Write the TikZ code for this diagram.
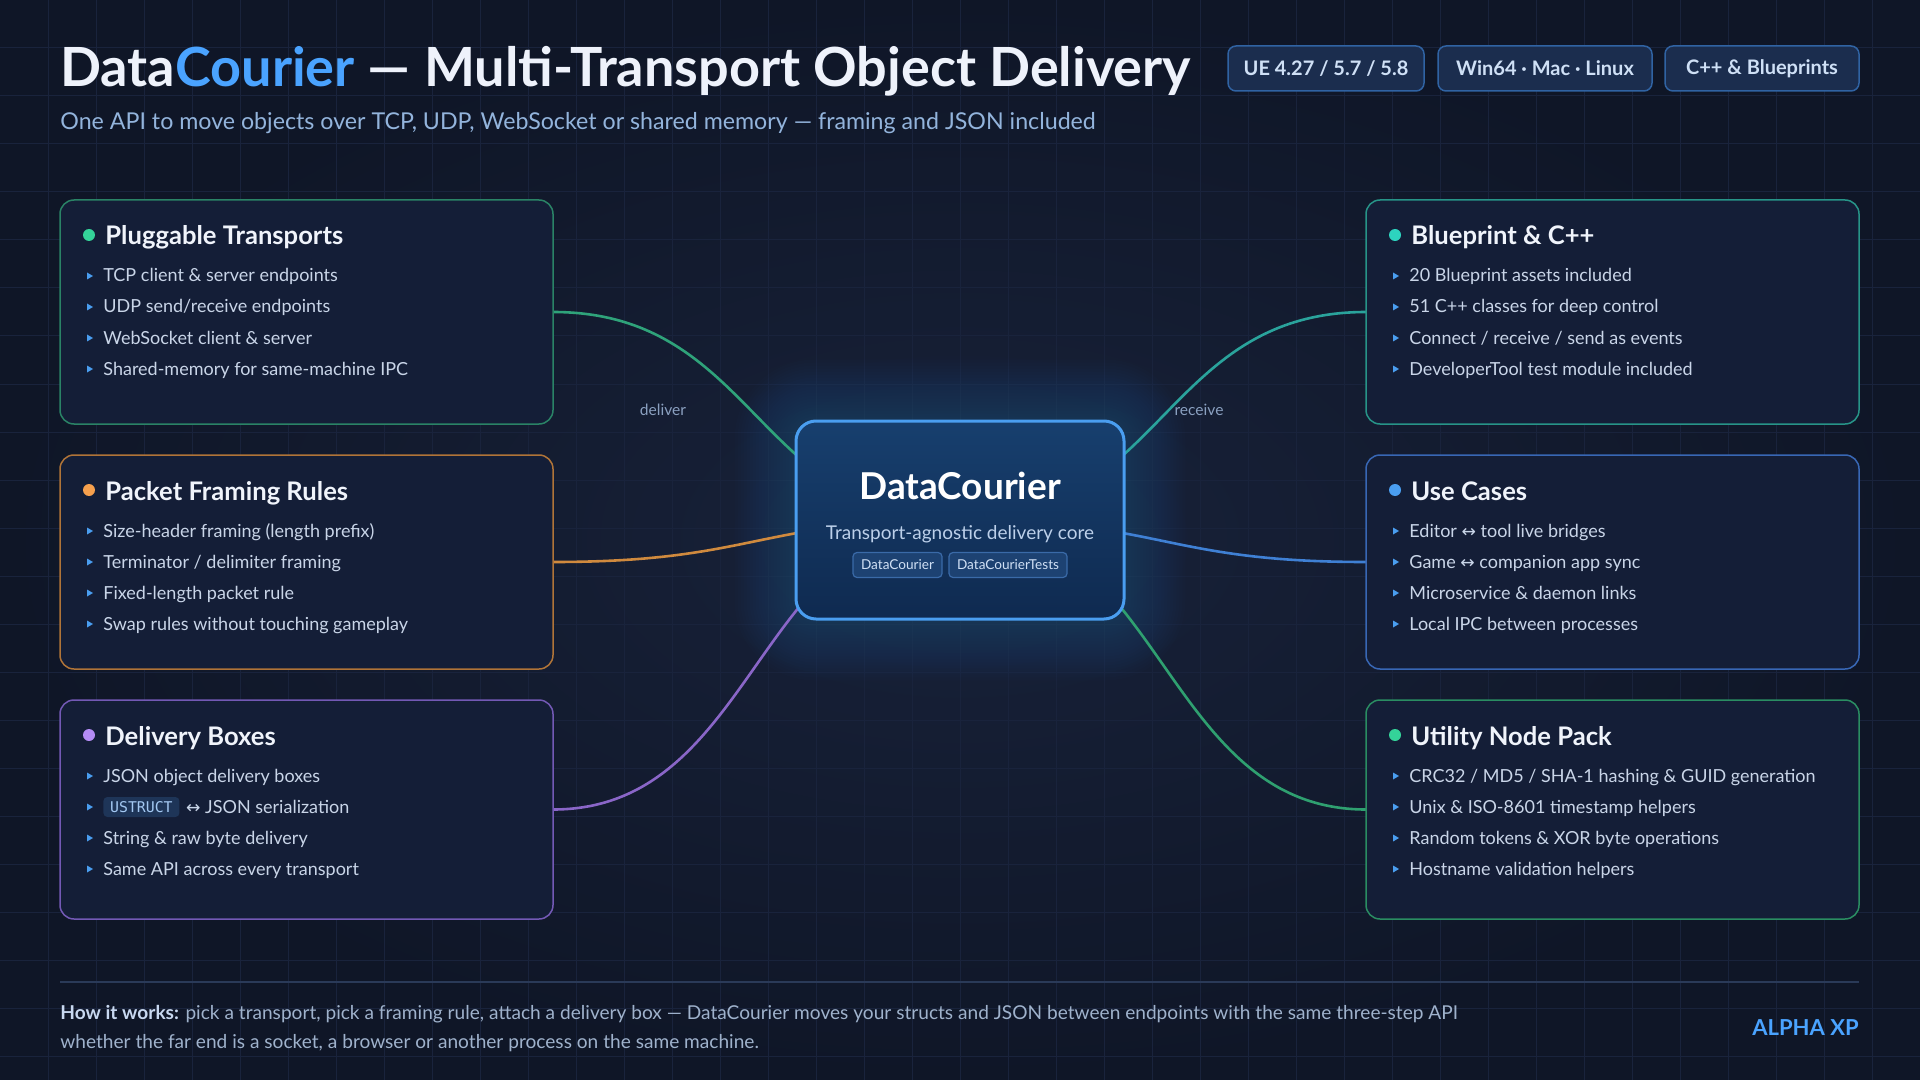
\documentclass[tikz,border=0pt]{standalone}
\usepackage{fontspec}
\setmainfont{Lato}
\newfontfamily\symf{DejaVu Sans}
\newfontfamily\monof{DejaVu Sans Mono}
\usetikzlibrary{calc}
\pgfdeclarelayer{back}
\pgfdeclarelayer{edges}
\pgfsetlayers{back,edges,main}

\definecolor{bgA}{HTML}{0F1627}
\definecolor{bgB}{HTML}{18223A}
\definecolor{gridc}{HTML}{19233C}
\definecolor{titlew}{HTML}{EEF2FB}
\definecolor{accent}{HTML}{4AA3FF}
\definecolor{subc}{HTML}{93B4DC}
\definecolor{badgefill}{HTML}{1B2D4E}
\definecolor{badgedraw}{HTML}{3063A3}
\definecolor{badgetext}{HTML}{CFE0F6}
\definecolor{boxfill}{HTML}{141E37}
\definecolor{headw}{HTML}{F0F4FB}
\definecolor{bullt}{HTML}{C9D5E8}
\definecolor{bulletc}{HTML}{4A9EF0}
\definecolor{dotgreen}{HTML}{34D399}
\definecolor{dotorange}{HTML}{F6A04D}
\definecolor{dotpurple}{HTML}{B48CF5}
\definecolor{dotteal}{HTML}{2DD4BF}
\definecolor{dotblue}{HTML}{4A9EF0}
\definecolor{bdgreen}{HTML}{2A8366}
\definecolor{bdorange}{HTML}{B07438}
\definecolor{bdpurple}{HTML}{7359B5}
\definecolor{bdteal}{HTML}{279488}
\definecolor{bdblue}{HTML}{3867B5}
\definecolor{bdgreen2}{HTML}{2A8D62}
\definecolor{cgreen}{HTML}{2FA37A}
\definecolor{corange}{HTML}{D08A3E}
\definecolor{cpurple}{HTML}{8A66C8}
\definecolor{cteal}{HTML}{2AA39C}
\definecolor{cblue}{HTML}{3F80D4}
\definecolor{cgreen2}{HTML}{2FA070}
\definecolor{cborder}{HTML}{4A9EF0}
\definecolor{ctop}{HTML}{173F6E}
\definecolor{cbot}{HTML}{0F2A50}
\definecolor{csub}{HTML}{BCD0EA}
\definecolor{tagfill}{HTML}{1D4272}
\definecolor{tagdraw}{HTML}{3A6AA8}
\definecolor{tagtext}{HTML}{D0E0F5}
\definecolor{labc}{HTML}{8AA0C0}
\definecolor{chipfill}{HTML}{1E3558}
\definecolor{chiptext}{HTML}{A3C8F2}
\definecolor{footline}{HTML}{2A3A58}
\definecolor{foottext}{HTML}{9FB2CC}
\definecolor{footbold}{HTML}{C8D8F0}
\definecolor{glowc}{HTML}{3B8CF0}

\tikzset{
  card/.style={draw=#1, line width=0.75pt, fill=boxfill, rounded corners=7pt,
    anchor=north west, minimum width=246.5pt, inner sep=0pt, outer sep=0pt},
  head/.style={anchor=base west, font=\fontsize{12.8}{14}\selectfont\bfseries, text=headw, inner sep=0pt},
  item/.style={anchor=base west, font=\fontsize{9}{10}\selectfont, text=bullt, inner sep=0pt},
  conn/.style={line width=1.3pt, draw=#1},
  badge/.style={draw=badgedraw, fill=badgefill, rounded corners=4pt, line width=0.75pt,
    minimum height=22.5pt, inner sep=0pt, text=badgetext, font=\fontsize{10}{11}\selectfont\bfseries},
  tag/.style={draw=tagdraw, fill=tagfill, rounded corners=2pt, line width=0.6pt,
    minimum height=12.5pt, inner sep=0pt, text=tagtext, font=\fontsize{6.8}{8}\selectfont},
  elabel/.style={text=labc, font=\fontsize{7.8}{9}\selectfont, inner sep=0pt},
}

\newcommand\card[7]{%
  \node[card=#5, minimum height=#4] (#1) at (#2,#3) {};
  \fill[#6] ($(#1.north west)+(29,35)$) circle (3pt);
  \node[head] (#1h) at ($(#1.north west)+(45,45)$) {#7};
}
\newcommand\itm[3]{%
  \pgfmathsetmacro\yy{82+31*#2}
  \fill[bulletc] ($(#1.north west)+(27,\yy-9.5)$) -- ++(6,3.5) -- ++(-6,3.5) -- cycle;
  \node[item] (#1i#2) at ($(#1.north west)+(43,\yy)$) {#3};
}
\newcommand\lra{{\symf\fontsize{8.6}{10}\selectfont ↔}}

\begin{document}
\begin{tikzpicture}[x=0.5pt,y=-0.5pt]
\useasboundingbox (0,0) rectangle (1920,1080);
\begin{pgfonlayer}{back}
  \shade[inner color=bgB, outer color=bgA] (0,0) rectangle (1920,1080);
  \foreach \gx in {48,96,...,1900} \draw[gridc, line width=0.5pt] (\gx,0) -- (\gx,1080);
  \foreach \gy in {48,96,...,1070} \draw[gridc, line width=0.5pt] (0,\gy) -- (1920,\gy);
\end{pgfonlayer}

% title
\node[anchor=base west, inner sep=0pt, text=titlew, font=\fontsize{27}{30}\selectfont\bfseries] (T) at (60,87)
  {Data\textcolor{accent}{Courier} — Multi-Transport Object Delivery};
\node[anchor=base west, inner sep=0pt, text=subc, font=\fontsize{11.6}{13}\selectfont] (ST) at (60,130)
  {One API to move objects over TCP, UDP, WebSocket or shared memory — framing and JSON included};

% badges
\node[badge, minimum width=98pt] (B1) at (1326,68.5) {UE 4.27 / 5.7 / 5.8};
\node[badge, minimum width=107pt] (B2) at (1545,68.5) {Win64 · Mac · Linux};
\node[badge, minimum width=97pt] (B3) at (1762,68.5) {C++ \& Blueprints};

% left cards
\card{L1}{60}{200}{112pt}{bdgreen}{dotgreen}{Pluggable Transports}
\itm{L1}{0}{TCP client \& server endpoints}
\itm{L1}{1}{UDP send/receive endpoints}
\itm{L1}{2}{WebSocket client \& server}
\itm{L1}{3}{Shared-memory for same-machine IPC}

\card{L2}{60}{455}{107pt}{bdorange}{dotorange}{Packet Framing Rules}
\itm{L2}{0}{Size-header framing (length prefix)}
\itm{L2}{1}{Terminator / delimiter framing}
\itm{L2}{2}{Fixed-length packet rule}
\itm{L2}{3}{Swap rules without touching gameplay}

\card{L3}{60}{700}{109.5pt}{bdpurple}{dotpurple}{Delivery Boxes}
\itm{L3}{0}{JSON object delivery boxes}
\fill[bulletc] ($(L3.north west)+(27,103.5)$) -- ++(6,3.5) -- ++(-6,3.5) -- cycle;
\node[fill=chipfill, rounded corners=2pt, text=chiptext, inner sep=0pt, minimum width=38pt, minimum height=10pt,
  font=\monof\fontsize{7.4}{8}\selectfont, anchor=west] (chip) at ($(L3.north west)+(43,107)$) {USTRUCT};
\node[item] (L3i1) at ($(chip.east)+(6,6)$) {\lra\ JSON serialization};
\itm{L3}{2}{String \& raw byte delivery}
\itm{L3}{3}{Same API across every transport}

% right cards
\card{R1}{1366}{200}{112pt}{bdteal}{dotteal}{Blueprint \& C++}
\itm{R1}{0}{20 Blueprint assets included}
\itm{R1}{1}{51 C++ classes for deep control}
\itm{R1}{2}{Connect / receive / send as events}
\itm{R1}{3}{DeveloperTool test module included}

\card{R2}{1366}{455}{107pt}{bdblue}{dotblue}{Use Cases}
\itm{R2}{0}{Editor \lra\ tool live bridges}
\itm{R2}{1}{Game \lra\ companion app sync}
\itm{R2}{2}{Microservice \& daemon links}
\itm{R2}{3}{Local IPC between processes}

\card{R3}{1366}{700}{109.5pt}{bdgreen2}{dotgreen}{Utility Node Pack}
\itm{R3}{0}{CRC32 / MD5 / SHA-1 hashing \& GUID generation}
\itm{R3}{1}{Unix \& ISO-8601 timestamp helpers}
\itm{R3}{2}{Random tokens \& XOR byte operations}
\itm{R3}{3}{Hostname validation helpers}

% center
\node[draw=cborder, line width=1.5pt, rounded corners=10pt, top color=ctop, bottom color=cbot,
  minimum width=164pt, minimum height=99pt, inner sep=0pt] (C) at (960,520) {};
\node[anchor=base, inner sep=0pt, text=white, font=\fontsize{18.5}{20}\selectfont\bfseries] (Ct) at (960,499) {DataCourier};
\node[anchor=base, inner sep=0pt, text=csub, font=\fontsize{9.5}{11}\selectfont] (Cs) at (960,539) {Transport-agnostic delivery core};
\node[tag, minimum width=44.5pt] (tg1) at (897.5,565) {DataCourier};
\node[tag, minimum width=59pt] (tg2) at (1008,565) {DataCourierTests};

\begin{pgfonlayer}{back}
  \foreach \i in {1,...,20}
    \fill[glowc, opacity=0.012, rounded corners=10pt+\i*1.5pt]
      ($(C.north west)+(-3*\i,-3*\i)$) rectangle ($(C.south east)+(3*\i,3*\i)$);
\end{pgfonlayer}

\begin{pgfonlayer}{edges}
  \draw[conn=cgreen] (L1.east) .. controls ($(L1.east)+(203.5,0)$) and ($(C.center)+(-203.5,0)$) .. (C.center);
  \draw[conn=corange] (L2.east) .. controls ($(L2.east)+(203.5,0)$) and ($(C.center)+(-203.5,0)$) .. (C.center);
  \draw[conn=cpurple] (L3.east) .. controls ($(L3.east)+(203.5,0)$) and ($(C.center)+(-203.5,0)$) .. (C.center);
  \draw[conn=cteal] (R1.west) .. controls ($(R1.west)+(-203,0)$) and ($(C.center)+(203,0)$) .. (C.center);
  \draw[conn=cblue] (R2.west) .. controls ($(R2.west)+(-203,0)$) and ($(C.center)+(203,0)$) .. (C.center);
  \draw[conn=cgreen2] (R3.west) .. controls ($(R3.west)+(-203,0)$) and ($(C.center)+(203,0)$) .. (C.center);
\end{pgfonlayer}
\node[elabel] (lbd) at (663,410) {deliver};
\node[elabel] (lbr) at (1199,410) {receive};

% footer
\coordinate (fl1) at (60,982);
\coordinate (fl2) at (1859,982);
\draw[footline, line width=0.8pt] (fl1) -- (fl2);
\node[anchor=base west, inner sep=0pt, text=foottext, font=\fontsize{9.55}{11}\selectfont] (F1) at (60,1019)
  {\textcolor{footbold}{\bfseries How it works:} pick a transport, pick a framing rule, attach a delivery box — DataCourier moves your structs and JSON between endpoints with the same three-step API};
\node[anchor=base west, inner sep=0pt, text=foottext, font=\fontsize{9.55}{11}\selectfont] (F2) at (60,1048)
  {whether the far end is a socket, a browser or another process on the same machine.};
\node[anchor=base east, inner sep=0pt, text=accent, font=\fontsize{11}{13}\selectfont\bfseries] (AX) at (1859,1035) {ALPHA XP};
\end{tikzpicture}
\end{document}
